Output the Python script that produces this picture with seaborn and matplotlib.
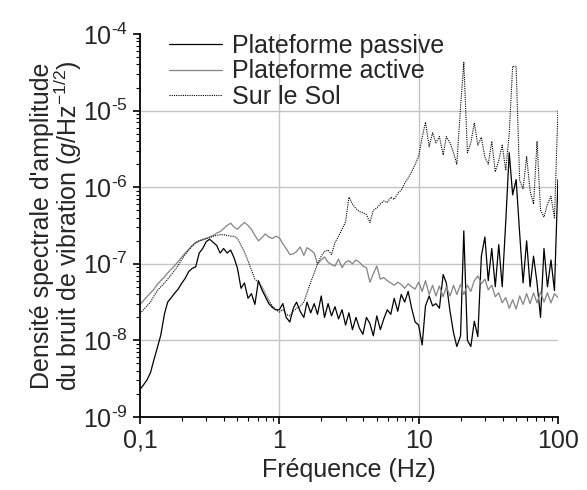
import numpy as np
import pandas as pd
import matplotlib
matplotlib.use("Agg")
import matplotlib.pyplot as plt
import matplotlib.ticker as mticker
import seaborn as sns

# frequency grid (Hz), read along the log axis
freq_low = [0.100, 0.106, 0.112, 0.119, 0.126, 0.133, 0.141, 0.150, 0.158, 0.168,
            0.178, 0.188, 0.200, 0.211, 0.224, 0.237, 0.251, 0.266, 0.282, 0.299,
            0.316, 0.335, 0.355, 0.376, 0.398, 0.422, 0.447, 0.473, 0.501, 0.531,
            0.562, 0.596, 0.631, 0.668, 0.708, 0.750, 0.794, 0.841, 0.891, 0.944]
freq_mid = [1.00, 1.06, 1.12, 1.19, 1.26, 1.33, 1.41, 1.50, 1.58, 1.68,
            1.78, 1.88, 2.00, 2.11, 2.24, 2.37, 2.51, 2.66, 2.82, 2.99,
            3.16, 3.35, 3.55, 3.76, 3.98, 4.22, 4.47, 4.73, 5.01, 5.31,
            5.62, 5.96, 6.31, 6.68, 7.08, 7.50, 7.94, 8.41, 8.91, 9.44]
freq_high = [10.0, 10.6, 11.2, 11.9, 12.6, 13.3, 14.1, 15.0, 15.8, 16.8,
             17.8, 18.8, 20.0, 21.1, 22.4, 23.7, 25.1, 26.6, 28.2, 29.9,
             31.6, 33.5, 35.5, 37.6, 39.8, 42.2, 44.7, 47.3, 50.1, 53.1,
             56.2, 59.6, 63.1, 66.8, 70.8, 75.0, 79.4, 84.1, 89.1, 94.4,
             100.0]

# amplitude read as decades (log10 of g/Hz^-1/2)
passive_exp = [-8.64, -8.58, -8.52, -8.42, -8.25, -8.10, -7.93, -7.65, -7.50, -7.44,
               -7.38, -7.33, -7.25, -7.19, -7.10, -7.06, -7.04, -6.86, -6.80, -6.71,
               -6.68, -6.72, -6.76, -6.86, -6.80, -6.86, -6.82, -6.92, -7.06, -7.32,
               -7.25, -7.45, -7.39, -7.53, -7.22, -7.34, -7.43, -7.52, -7.57, -7.60,
               -7.60, -7.52, -7.70, -7.76, -7.58, -7.50, -7.62, -7.70, -7.50, -7.64,
               -7.52, -7.66, -7.42, -7.70, -7.52, -7.68, -7.56, -7.72, -7.60, -7.80,
               -7.64, -7.86, -7.70, -7.84, -7.92, -7.70, -7.78, -7.94, -7.68, -7.86,
               -7.72, -7.60, -7.66, -7.45, -7.62, -7.40, -7.50, -7.36, -7.58, -7.76,
               -7.80, -8.06, -7.55, -7.42, -7.55, -7.52, -7.58, -7.14, -7.25, -7.62,
               -7.90, -8.08, -7.94, -6.57, -8.00, -8.08, -7.75, -7.95, -6.90, -6.65,
               -7.22, -6.80, -7.30, -6.75, -7.30, -6.45, -5.55, -6.10, -5.90, -6.60,
               -7.25, -6.70, -7.30, -6.90, -7.25, -7.70, -6.80, -7.30, -6.95, -7.35,
               -5.90]
active_exp = [-7.53, -7.48, -7.43, -7.38, -7.33, -7.27, -7.22, -7.17, -7.12, -7.07,
              -7.02, -6.97, -6.91, -6.86, -6.81, -6.76, -6.72, -6.70, -6.69, -6.67,
              -6.65, -6.63, -6.60, -6.58, -6.54, -6.50, -6.47, -6.52, -6.55, -6.50,
              -6.46, -6.50, -6.55, -6.63, -6.70, -6.66, -6.61, -6.65, -6.67, -6.64,
              -6.66, -6.74, -6.80, -6.88, -6.87, -6.84, -6.78, -6.89, -6.79, -6.82,
              -6.86, -7.00, -6.95, -6.91, -6.98, -7.01, -7.03, -6.94, -7.05, -6.98,
              -6.96, -7.00, -6.95, -6.98, -7.03, -7.05, -7.24, -7.13, -7.03, -7.20,
              -7.18, -7.22, -7.25, -7.28, -7.24, -7.27, -7.32, -7.26, -7.30, -7.33,
              -7.24, -7.36, -7.22, -7.40, -7.28, -7.42, -7.29, -7.43, -7.30, -7.42,
              -7.28, -7.40, -7.27, -7.40, -7.28, -7.36, -7.22, -7.16, -7.26, -7.20,
              -7.34, -7.28, -7.43, -7.38, -7.51, -7.44, -7.58, -7.47, -7.59, -7.42,
              -7.53, -7.39, -7.52, -7.38, -7.51, -7.37, -7.50, -7.38, -7.51, -7.39,
              -7.44]
sol_exp = [-7.65, -7.60, -7.55, -7.50, -7.42, -7.35, -7.30, -7.25, -7.20, -7.14,
           -7.08, -7.02, -6.94, -6.88, -6.82, -6.77, -6.73, -6.70, -6.68, -6.67,
           -6.66, -6.64, -6.63, -6.62, -6.62, -6.63, -6.64, -6.64, -6.67, -6.76,
           -6.85, -6.96, -7.08, -7.20, -7.24, -7.30, -7.39, -7.48, -7.55, -7.60,
           -7.63, -7.60, -7.66, -7.68, -7.62, -7.58, -7.56, -7.50, -7.38, -7.24,
           -7.12, -7.00, -6.90, -6.84, -6.82, -6.88, -6.72, -6.64, -6.55, -6.45,
           -6.13, -6.22, -6.28, -6.32, -6.33, -6.36, -6.46, -6.30, -6.27, -6.22,
           -6.18, -6.20, -6.13, -6.16, -6.08, -6.04, -5.95, -5.88, -5.80, -5.70,
           -5.60, -5.35, -5.15, -5.47, -5.29, -5.42, -5.34, -5.58, -5.34, -5.42,
           -5.55, -5.70, -4.95, -4.37, -5.55, -5.42, -5.16, -5.45, -5.35, -5.61,
           -5.70, -5.40, -5.80, -5.65, -5.45, -5.78, -5.30, -4.42, -4.43, -5.91,
           -6.02, -5.60, -6.05, -6.22, -5.40, -6.30, -6.39, -6.22, -6.12, -6.40,
           -5.00]

labels = ["Plateforme passive", "Plateforme active", "Sur le Sol"]
x_ticks = [0.1, 1, 10, 100]
x_tick_labels = ["0,1", "1", "10", "100"]
y_ticks = [1e-9, 1e-8, 1e-7, 1e-6, 1e-5, 1e-4]
y_tick_labels = ["$\\mathregular{10^{\u2010%d}}$" % n for n in [9, 8, 7, 6, 5, 4]]

freq = freq_low + freq_mid + freq_high
df = pd.DataFrame({"freq": freq,
                   "passive": 10.0 ** np.array(passive_exp),
                   "active": 10.0 ** np.array(active_exp),
                   "sol": 10.0 ** np.array(sol_exp)})

sns.set_style("ticks")
plt.rcParams["font.family"] = ["Liberation Sans", "DejaVu Sans"]
plt.rcParams["mathtext.fontset"] = "custom"
plt.rcParams["mathtext.rm"] = "Liberation Sans"
plt.rcParams["mathtext.it"] = "Liberation Sans:italic"

fig = plt.figure(figsize=(5.87, 4.90), dpi=100)
ax = fig.add_axes([0.2385, 0.149, 0.712, 0.7816])

# grid at inner decades only
for v in [1, 10]:
    ax.axvline(v, color="#c4c4c4", lw=1.0, zorder=0)
for v in [1e-8, 1e-7, 1e-6, 1e-5]:
    ax.axhline(v, color="#c4c4c4", lw=1.0, zorder=0)

sns.lineplot(data=df, x="freq", y="passive", ax=ax, color="black", lw=0.9,
             label=labels[0], estimator=None, sort=False)
sns.lineplot(data=df, x="freq", y="active", ax=ax, color="#888888", lw=0.95,
             label=labels[1], estimator=None, sort=False)
sns.lineplot(data=df, x="freq", y="sol", ax=ax, color="black", lw=0.8,
             linestyle=(0, (1, 1)), label=labels[2], estimator=None, sort=False)

ax.set_xscale("log")
ax.set_yscale("log")
ax.set_xlim(0.1, 100)
ax.set_ylim(1e-9, 1e-4)
ax.xaxis.set_major_locator(mticker.FixedLocator(x_ticks))
ax.xaxis.set_major_formatter(mticker.FixedFormatter(x_tick_labels))
ax.yaxis.set_major_locator(mticker.FixedLocator(y_ticks))
ax.yaxis.set_major_formatter(mticker.FixedFormatter(y_tick_labels))
ax.xaxis.set_minor_locator(mticker.LogLocator(subs=np.arange(2, 10)))
ax.yaxis.set_minor_locator(mticker.LogLocator(subs=np.arange(2, 10), numticks=20))
ax.xaxis.set_minor_formatter(mticker.NullFormatter())
ax.yaxis.set_minor_formatter(mticker.NullFormatter())
ax.tick_params(which="major", direction="out", length=5, width=1.2, labelsize=18, color="black")
ax.tick_params(which="minor", direction="out", length=3, width=0.8, color="black")

sns.despine(ax=ax)
for s in ["left", "bottom"]:
    ax.spines[s].set_linewidth(1.3)
    ax.spines[s].set_color("black")

ax.set_xlabel("Fréquence (Hz)", fontsize=18)
ax.set_ylabel("Densité spectrale d'amplitude\ndu bruit de vibration ($g$/Hz$^{-1/2}$)",
              fontsize=18, linespacing=0.95)
ax.yaxis.set_label_coords(-0.133, 0.5)

ax.legend(loc="upper left", bbox_to_anchor=(0.07, 1.0), frameon=False, fontsize=18,
          handlelength=2.1, handletextpad=0.4, labelspacing=0.05,
          borderpad=0, borderaxespad=0)

fig.savefig("out.png", dpi=100)
